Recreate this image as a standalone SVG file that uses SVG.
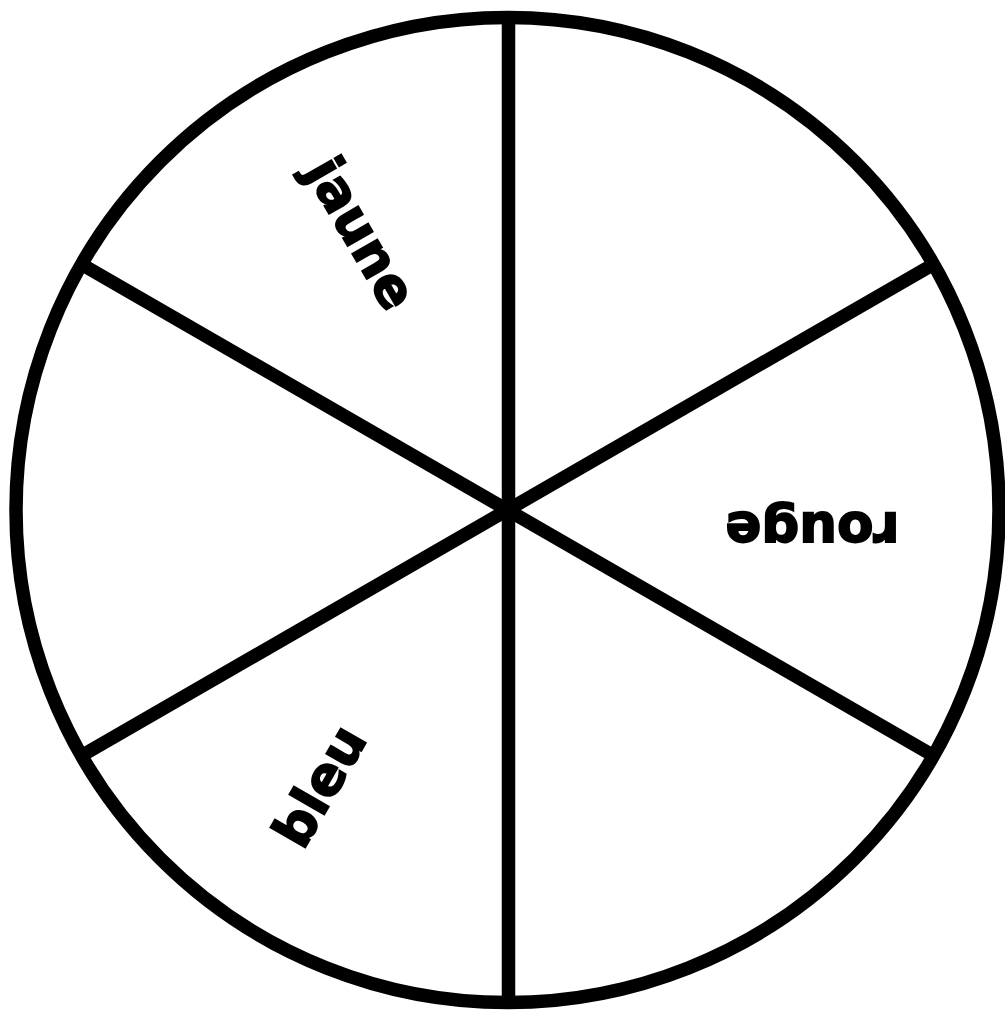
<svg xmlns="http://www.w3.org/2000/svg" width="1005" height="1011" viewBox="0 0 1005 1011">
<style>
.ln{stroke:#000;stroke-width:13.5;fill:none;stroke-linecap:butt}
.lb{font-family:"DejaVu Sans",sans-serif;font-weight:bold;font-size:53px;fill:#000;stroke:#000;stroke-width:1.8;text-anchor:middle}
</style>
<rect width="1005" height="1011" fill="#fff"/>
<g id="connectors">
<line class="ln" x1="508.5" y1="17" x2="508.5" y2="1003"/>
<line class="ln" x1="81" y1="264" x2="934" y2="756"/>
<line class="ln" x1="934" y1="264" x2="81" y2="756"/>
</g>
<g id="wheel">
<ellipse class="ln" cx="507.5" cy="510" rx="491.5" ry="492.5"/>
</g>
<g id="jaune"><text class="lb" transform="translate(358,235) rotate(60)" y="14.5">jaune</text></g>
<g id="rouge"><text class="lb" transform="translate(812.5,527) rotate(180)" y="14.5">rouge</text></g>
<g id="bleu"><text class="lb" transform="translate(323,788) rotate(-60)" y="14.5">bleu</text></g>
</svg>
